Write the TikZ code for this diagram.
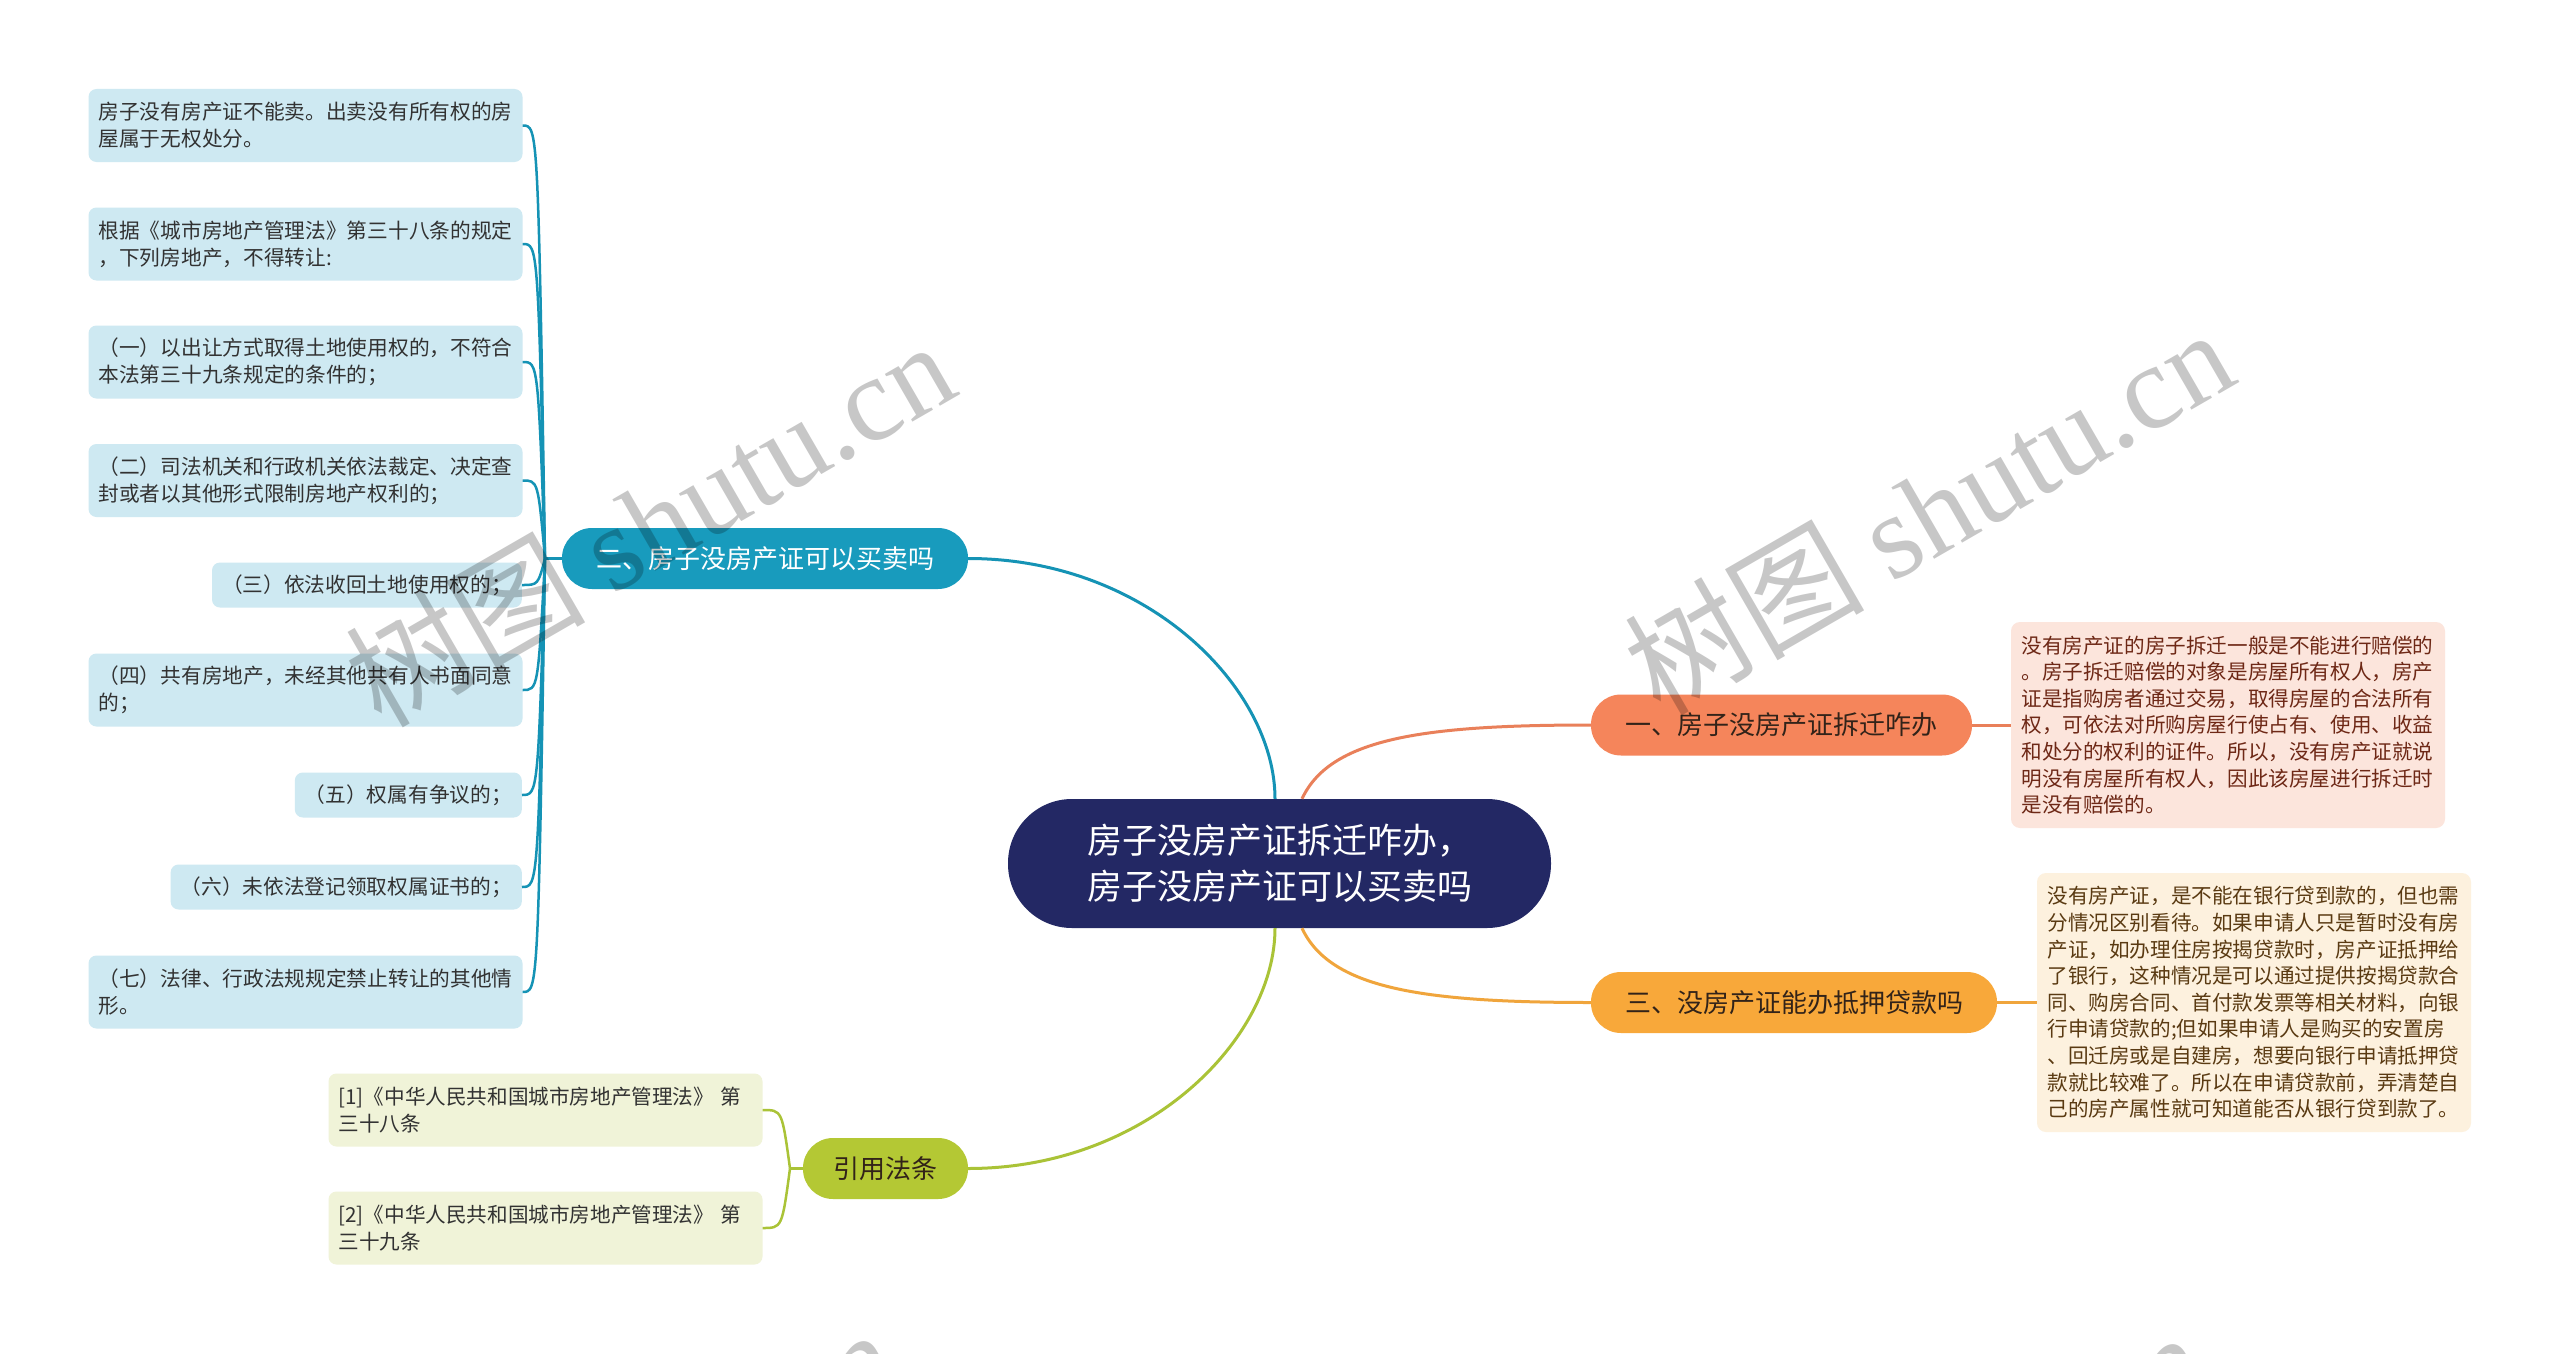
\documentclass[tikz,border=0pt]{standalone}
\usepackage{fontspec}
\setmainfont{Noto Sans CJK SC}
\newfontfamily\wmserif{Liberation Serif}
\usetikzlibrary{calc}
\definecolor{navyC}{RGB}{35,40,100}
\definecolor{tealC}{RGB}{24,155,189}
\definecolor{tealL}{RGB}{21,147,181}
\definecolor{orangeC}{RGB}{245,133,91}
\definecolor{orangeL}{RGB}{233,128,90}
\definecolor{yellowC}{RGB}{248,168,58}
\definecolor{yellowL}{RGB}{240,165,60}
\definecolor{greenC}{RGB}{180,200,52}
\definecolor{greenL}{RGB}{170,195,55}
\definecolor{tealleaf}{RGB}{206,233,242}
\definecolor{greenleaf}{RGB}{240,243,216}
\definecolor{orangebox}{RGB}{252,229,220}
\definecolor{yellowbox}{RGB}{253,241,222}
\definecolor{leaftext}{RGB}{50,50,50}
\definecolor{redtext}{RGB}{110,40,22}
\definecolor{browntext}{RGB}{90,58,18}
\definecolor{darktext}{RGB}{50,35,25}
\newcommand{\wmtext}{{\fontsize{120}{120}\selectfont 树图 \wmserif shutu.cn}}
\tikzset{
  leafT/.style={fill=tealleaf, rounded corners=8pt, inner sep=0pt, text=leaftext,
    font=\fontsize{20.7}{27}\selectfont},
  leafG/.style={fill=greenleaf, rounded corners=8pt, inner sep=0pt, text=leaftext,
    font=\fontsize{20.6}{27}\selectfont},
  twoline/.style={minimum width=434pt, minimum height=73pt, text width=414pt, align=left},
  oneline/.style={anchor=east, inner xsep=10pt, minimum height=45pt},
  branch/.style={rounded corners=30pt, minimum height=61pt, inner sep=0pt,
    text=darktext, font=\fontsize{26}{30}\selectfont},
  centerbox/.style={fill=navyC, rounded corners=64pt, minimum width=543pt, minimum height=129pt,
    inner sep=0pt, text=white, align=left, font=\fontsize{35}{46}\selectfont},
  textbox/.style={rounded corners=9pt, inner sep=0pt, minimum width=434pt, text width=413pt,
    align=left, font=\fontsize{20.6}{26.6}\selectfont},
  mainline/.style={line width=3pt},
  thinline/.style={line width=2.5pt},
  wm/.style={rotate=30, text=black, text opacity=0.22, inner sep=0pt}
}
\begin{document}
\begin{tikzpicture}[x=1pt,y=-1pt]
\useasboundingbox (0,0) rectangle (2560,1354);
\fill[white] (0,0) rectangle (2560,1354);

% central topic
\node[centerbox] (c) at (1279.5,863.5) {房子没房产证拆迁咋办，\\房子没房产证可以买卖吗};

% main branches
\node[branch, fill=tealC, text=white, minimum width=406pt] (b2) at (765,558.5) {二、房子没房产证可以买卖吗};
\node[branch, fill=orangeC, minimum width=381pt] (b1) at (1781.5,725) {一、房子没房产证拆迁咋办};
\node[branch, fill=yellowC, minimum width=406pt] (b3) at (1794,1002.5) {三、没房产证能办抵押贷款吗};
\node[branch, fill=greenC, minimum width=165pt] (b4) at (885.5,1168.5) {引用法条};

\coordinate (cT1) at ($(c.north)+(-4.5,0)$);
\coordinate (cT2) at ($(c.north)+(22.5,0)$);
\coordinate (cB1) at ($(c.south)+(-4.5,0)$);
\coordinate (cB2) at ($(c.south)+(22.5,0)$);

\draw[mainline, tealL] (cT1) .. controls +(0,-110) and +(180,0) .. (b2.east);
\draw[mainline, orangeL] (cT2) .. controls +(28,-60) and +(-170,0) .. (b1.west);
\draw[mainline, yellowL] (cB2) .. controls +(28,60) and +(-170,0) .. (b3.west);
\draw[mainline, greenL] (cB1) .. controls +(0,110) and +(180,0) .. (b4.east);

% left leaves
\node[leafT,twoline] (l1) at (305.5,125.5) {房子没有房产证不能卖。出卖没有所有权的房\\屋属于无权处分。};
\node[leafT,twoline] (l2) at (305.5,244) {根据《城市房地产管理法》第三十八条的规定\\，下列房地产，不得转让:};
\node[leafT,twoline] (l3) at (305.5,362) {（一）以出让方式取得土地使用权的，不符合\\本法第三十九条规定的条件的；};
\node[leafT,twoline] (l4) at (305.5,480.5) {（二）司法机关和行政机关依法裁定、决定查\\封或者以其他形式限制房地产权利的；};
\node[leafT,oneline] (l5) at (522,585) {（三）依法收回土地使用权的；};
\node[leafT,twoline] (l6) at (305.5,690) {（四）共有房地产，未经其他共有人书面同意\\的；};
\node[leafT,oneline] (l7) at (522,795) {（五）权属有争议的；};
\node[leafT,oneline] (l8) at (522,887) {（六）未依法登记领取权属证书的；};
\node[leafT,twoline] (l9) at (305.5,992) {（七）法律、行政法规规定禁止转让的其他情\\形。};

\coordinate (j1) at (545,558.5);
\coordinate (tx) at (538,0);
\draw[mainline, tealL] (b2.west) -- (j1);
\foreach \n in {l1,l2,l3,l4,l5,l6,l7,l8,l9}
  \draw[thinline, tealL] (j1) .. controls (tx |- \n.east) .. (\n.east);

% citation leaves
\node[leafG,twoline] (g1) at (545.5,1110) {[1]《中华人民共和国城市房地产管理法》 第\\三十八条};
\node[leafG,twoline] (g2) at (545.5,1228) {[2]《中华人民共和国城市房地产管理法》 第\\三十九条};
\coordinate (j2) at (790,1168.5);
\coordinate (gx) at (782,0);
\draw[mainline, greenL] (b4.west) -- (j2);
\foreach \n in {g1,g2}
  \draw[thinline, greenL] (j2) .. controls (gx |- \n.east) .. (\n.east);

% right text boxes
\node[textbox, fill=orangebox, text=redtext, minimum height=206pt] (r1) at (2228,725) {没有房产证的房子拆迁一般是不能进行赔偿的\\。房子拆迁赔偿的对象是房屋所有权人，房产\\证是指购房者通过交易，取得房屋的合法所有\\权，可依法对所购房屋行使占有、使用、收益\\和处分的权利的证件。所以，没有房产证就说\\明没有房屋所有权人，因此该房屋进行拆迁时\\是没有赔偿的。};
\node[textbox, fill=yellowbox, text=browntext, minimum height=259pt] (r2) at (2254,1002.5) {没有房产证，是不能在银行贷到款的，但也需\\分情况区别看待。如果申请人只是暂时没有房\\产证，如办理住房按揭贷款时，房产证抵押给\\了银行，这种情况是可以通过提供按揭贷款合\\同、购房合同、首付款发票等相关材料，向银\\行申请贷款的;但如果申请人是购买的安置房\\、回迁房或是自建房，想要向银行申请抵押贷\\款就比较难了。所以在申请贷款前，弄清楚自\\己的房产属性就可知道能否从银行贷到款了。};

\draw[mainline, orangeL] (b1.east) -- (r1.west);
\draw[mainline, yellowL] (b3.east) -- (r2.west);

% watermarks
\begin{scope}
\clip (0,0) rectangle (2560,1354);
\node[wm] (w1) at (649,522) {\wmtext};
\node[wm] (w2) at (1928,510) {\wmtext};
\node[wm] (w3) at (591,1510) {\wmtext};
\node[wm] (w4) at (1900,1513) {\wmtext};
\end{scope}
\end{tikzpicture}
\end{document}
